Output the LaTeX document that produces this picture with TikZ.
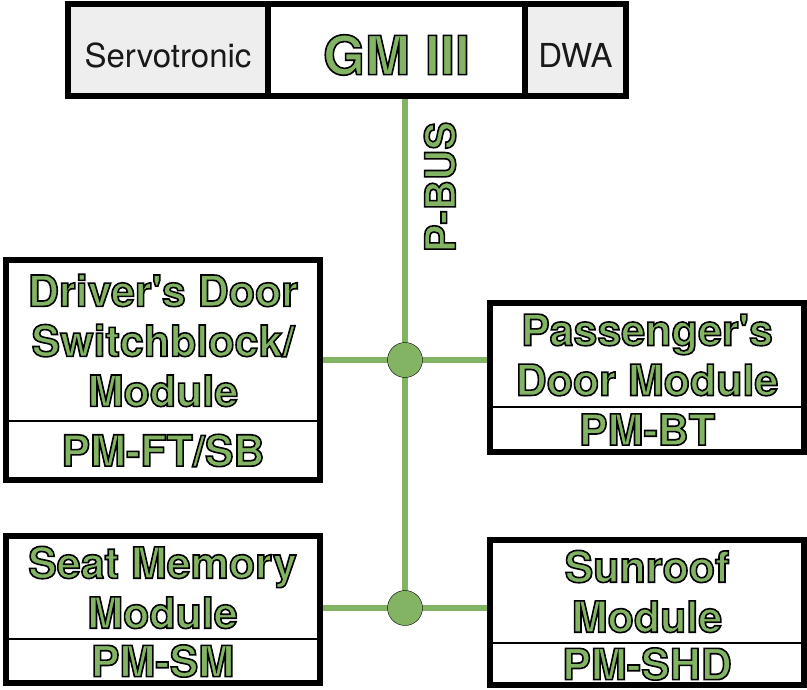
\documentclass[tikz,border=0pt]{standalone}
\usepackage{fontspec}
\setmainfont{TeX Gyre Heros}
\usetikzlibrary{positioning}
\definecolor{busgreen}{RGB}{130,180,100}
\definecolor{cellgray}{RGB}{238,238,238}
% green letters with a thin black outline
\newcommand{\gtxt}[1]{{\color{busgreen}\special{pdf:literal direct 2 Tr 1.6 w 0 0 0 RG}#1\special{pdf:literal direct 0 Tr}}}

\begin{document}
\begin{tikzpicture}[x=1pt,y=-1pt,
    cell/.style={draw,line width=6pt,inner sep=0pt,outer sep=0pt,minimum height=92pt},
    side/.style={cell,fill=cellgray,text=black!90,font=\fontsize{33}{38}\selectfont,text height=35pt},
    part/.style={draw,line width=1.2pt,inner sep=0pt,outer sep=0pt,minimum width=314pt,
        align=center,font=\fontsize{43}{50}\selectfont\bfseries},
    frame/.style={line width=6pt},
    bus/.style={busgreen,line width=5.5pt},
    junction/.style={circle,draw,thin,fill=busgreen,minimum size=35pt,inner sep=0pt}]
    \useasboundingbox (0,0) rectangle (807,690);

    % gateway
    \node[cell,minimum width=257pt,text height=49pt,font=\fontsize{54}{60}\selectfont\bfseries]
        (gm) at (396.5,50.5) {\gtxt{GM III}};
    \node[side,minimum width=200pt,left=0pt of gm]   (servo) {Servotronic};
    \node[side,minimum width=101pt,right=0pt of gm]  (dwa)   {DWA};
    \node[rotate=90,font=\fontsize{42}{50}\selectfont\bfseries] (pbus) at (440,187) {\gtxt{P-BUS}};

    % modules
    \node[part,minimum height=161pt]           (drv)    at (163,340.5)
        {\gtxt{Driver\textquotesingle s Door}\\\gtxt{Switchblock/}\\\gtxt{Module}};
    \node[part,minimum height=59pt,below=0pt of drv]  (drvpm)  {\gtxt{PM-FT/SB}};
    \node[part,minimum height=104pt]           (pas)    at (647,355)
        {\gtxt{Passenger\textquotesingle s}\\\gtxt{Door Module}};
    \node[part,minimum height=45pt,below=0pt of pas]  (paspm)  {\gtxt{PM-BT}};
    \node[part,minimum height=103pt]           (seat)   at (162.5,587.5)
        {\gtxt{Seat Memory}\\\gtxt{Module}};
    \node[part,minimum height=44pt,below=0pt of seat] (seatpm) {\gtxt{PM-SM}};
    \node[part,minimum height=103pt]           (sun)    at (647,591.5)
        {\gtxt{Sunroof}\\\gtxt{Module}};
    \node[part,minimum height=42pt,below=0pt of sun]  (sunpm)  {\gtxt{PM-SHD}};

    % bus
    \coordinate (j1) at (405,360);
    \coordinate (j2) at (405,608);
    \draw[bus,shorten <=3pt] (gm.south -| j1) -- (j2);
    \draw[bus] (drv.east |- j1) -- (pas.west |- j1);
    \draw[bus] (seat.east |- j2) -- (sun.west |- j2);
    \node[junction] (dot1) at (j1) {};
    \node[junction] (dot2) at (j2) {};

    \draw[frame] (drv.north west)  rectangle (drvpm.south east);
    \draw[frame] (pas.north west)  rectangle (paspm.south east);
    \draw[frame] (seat.north west) rectangle (seatpm.south east);
    \draw[frame] (sun.north west)  rectangle (sunpm.south east);
\end{tikzpicture}
\end{document}
